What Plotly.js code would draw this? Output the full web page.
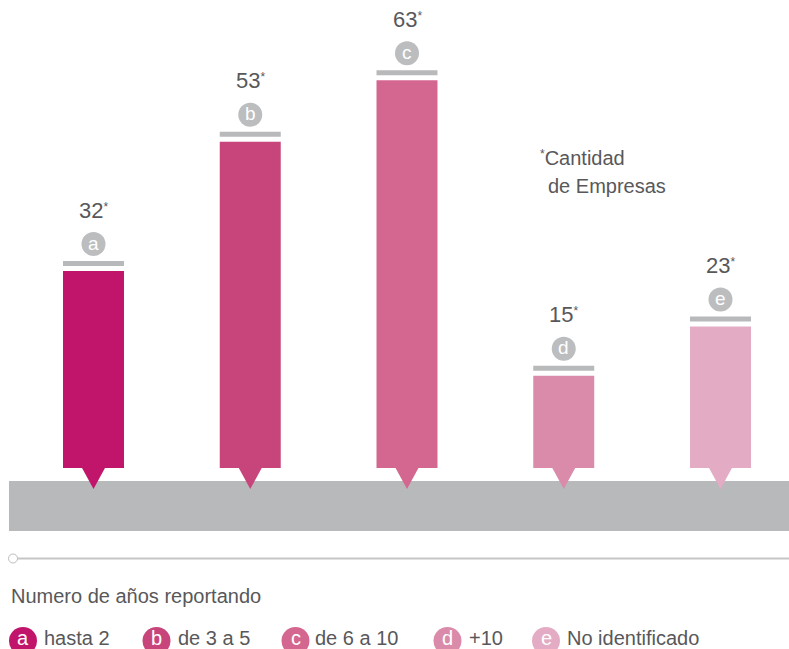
<!DOCTYPE html>
<html>
<head>
<meta charset="utf-8">
<script src="https://cdn.plot.ly/plotly-3.0.1.min.js"></script>
<style>html,body{margin:0;padding:0;background:#fff;}#chart{width:789px;height:649px;}</style>
</head>
<body>
<div id="chart"></div>
<script>
// ---- data ----
const letters = ["a", "b", "c", "d", "e"];
const categories = ["hasta 2", "de 3 a 5", "de 6 a 10", "+10", "No identificado"];
const values = [32, 53, 63, 15, 23];
const colors = ["#c0156a", "#c8457c", "#d4678f", "#da8baa", "#e3acc4"];
const legendTitle = "Numero de años reportando";
const noteLines = ["Cantidad", "de Empresas"];

// ---- layout constants ----
const W = 789, H = 649;
const FONT = "Liberation Sans, Arial, sans-serif";
const TEXT = "#58585a";
const GREY = "#b8b9bb";
const barWidth = 0.389;
const legendCircleX = [23, 156.5, 295.5, 447.5, 546];
const legendTextX = [42, 176, 313, 467, 565];
const px = v => v / W;
const py = v => 1 - v / H;
const star = '<span style="font-size:12px;baseline-shift:7px">*</span>';

const idx = values.map((_, i) => i);

const shapes = [];
const annotations = [];

// grey band
shapes.push({type: "rect", xref: "paper", yref: "paper", layer: "below",
  x0: px(9), x1: 1, y0: py(531), y1: py(481), fillcolor: GREY, line: {width: 0}});

values.forEach((v, i) => {
  // cap bar above
  shapes.push({type: "rect", xref: "x", yref: "y", ysizemode: "pixel", yanchor: v,
    x0: i - barWidth / 2, x1: i + barWidth / 2, y0: 5, y1: 10,
    fillcolor: GREY, line: {width: 0}});
  // letter circle
  shapes.push({type: "circle", xref: "x", yref: "y", xsizemode: "pixel", xanchor: i,
    ysizemode: "pixel", yanchor: v, x0: -12, x1: 12, y0: 15, y1: 39,
    fillcolor: "#bcbdbf", line: {width: 0}});
  // pointer triangle
  shapes.push({type: "path", xref: "x", yref: "y", xsizemode: "pixel", xanchor: i,
    ysizemode: "pixel", yanchor: 0, path: "M-12,1 L12,1 L0,-21 Z",
    fillcolor: colors[i], line: {width: 0}});
  annotations.push({x: i, y: v, xref: "x", yref: "y", yshift: 28, showarrow: false,
    text: letters[i], font: {family: FONT, size: 19, color: "#ffffff"}, yanchor: "middle"});
  annotations.push({x: i, y: v, xref: "x", yref: "y", yshift: 61, showarrow: false,
    text: v + star, font: {family: FONT, size: 22, color: TEXT}, yanchor: "middle"});

  // legend
  shapes.push({type: "circle", xref: "paper", yref: "paper",
    x0: px(legendCircleX[i] - 14), x1: px(legendCircleX[i] + 14),
    y0: py(655), y1: py(627), fillcolor: colors[i], line: {width: 0}});
  annotations.push({x: px(legendCircleX[i]), y: py(638), xref: "paper", yref: "paper",
    showarrow: false, text: letters[i], xanchor: "center", yanchor: "middle",
    font: {family: FONT, size: 20, color: "#ffffff"}});
  annotations.push({x: px(legendTextX[i]), y: py(638), xref: "paper", yref: "paper",
    showarrow: false, text: categories[i], xanchor: "left", yanchor: "middle",
    font: {family: FONT, size: 20, color: TEXT}});
});

// separator line
shapes.push({type: "line", xref: "paper", yref: "paper", x0: px(17), x1: 1,
  y0: py(558.5), y1: py(558.5), line: {color: "#c6c6c6", width: 2}});
shapes.push({type: "circle", xref: "paper", yref: "paper", x0: px(8.5), x1: px(17.5),
  y0: py(563), y1: py(554), fillcolor: "#ffffff", line: {color: "#bdbdbd", width: 1}});

// legend title
annotations.push({x: px(9), y: py(596), xref: "paper", yref: "paper", showarrow: false,
  text: legendTitle, xanchor: "left", yanchor: "middle",
  font: {family: FONT, size: 20, color: TEXT}});

// note
annotations.push({x: px(538), y: py(158), xref: "paper", yref: "paper", showarrow: false,
  text: star + noteLines[0], xanchor: "left", yanchor: "middle",
  font: {family: FONT, size: 20, color: TEXT}});
annotations.push({x: px(546), y: py(186), xref: "paper", yref: "paper", showarrow: false,
  text: noteLines[1], xanchor: "left", yanchor: "middle",
  font: {family: FONT, size: 20, color: TEXT}});

const pxPerUnit = 6.155;
const baseline = 468;
const spacing = 156.75, firstCenter = 93.5;

const trace = {
  type: "bar", x: idx, y: values, width: barWidth,
  marker: {color: colors, line: {width: 0}},
  hoverinfo: "skip", showlegend: false
};

const layout = {
  width: W, height: H,
  margin: {l: 0, r: 0, t: 0, b: 0, pad: 0},
  paper_bgcolor: "#ffffff", plot_bgcolor: "#ffffff",
  showlegend: false,
  xaxis: {range: [-firstCenter / spacing, (W - firstCenter) / spacing], visible: false, fixedrange: true},
  yaxis: {range: [-(H - baseline) / pxPerUnit, baseline / pxPerUnit], visible: false, fixedrange: true},
  shapes: shapes,
  annotations: annotations,
  font: {family: FONT}
};

Plotly.newPlot("chart", [trace], layout, {displayModeBar: false});
</script>
</body>
</html>
